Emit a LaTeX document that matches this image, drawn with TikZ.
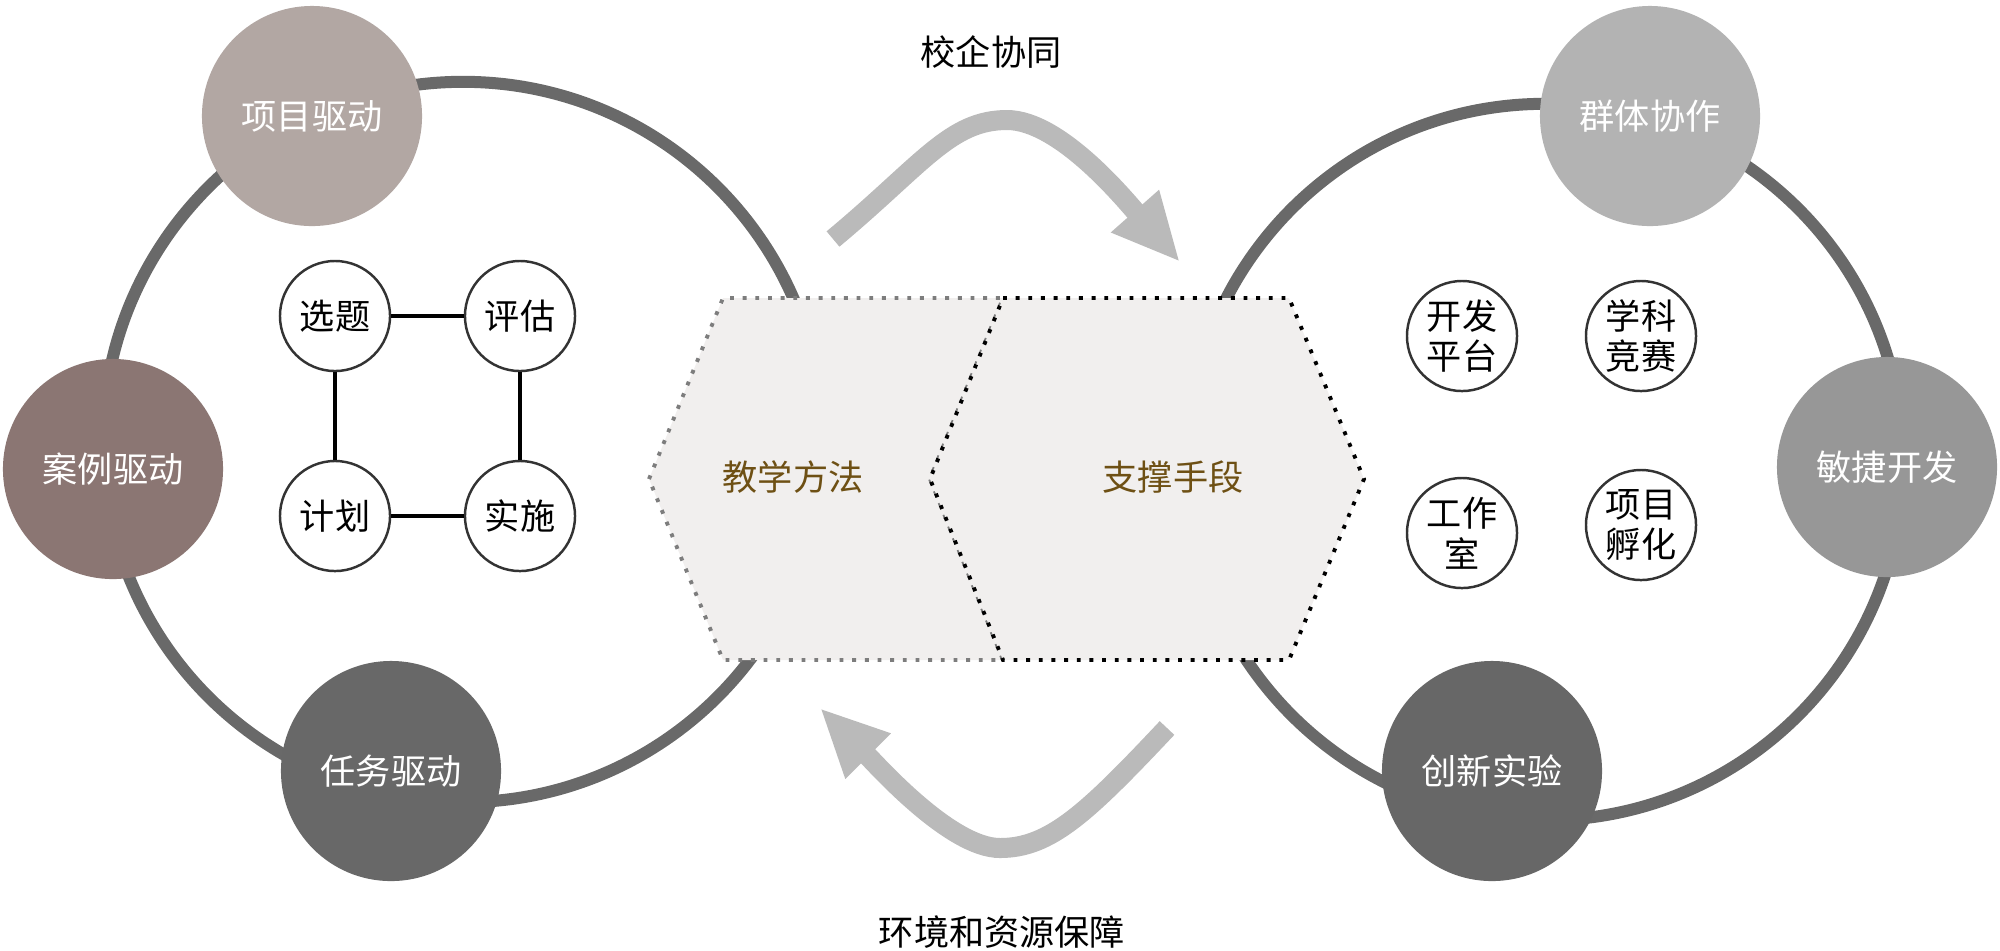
\documentclass[tikz,border=0pt]{standalone}
\usepackage{fontspec}
\usepackage{tikz}
\usetikzlibrary{arrows.meta}
\newfontfamily\cjk{Noto Sans CJK SC}
\definecolor{ringgray}{RGB}{105,105,105}
\definecolor{flowgray}{RGB}{186,186,186}
\definecolor{hexfill}{RGB}{241,239,238}
\definecolor{hexdot}{RGB}{125,125,125}
\definecolor{txtbrown}{RGB}{110,80,20}
\definecolor{projcol}{RGB}{178,167,163}
\definecolor{casecol}{RGB}{139,118,115}
\definecolor{taskcol}{RGB}{104,104,104}
\definecolor{teamcol}{RGB}{179,179,179}
\definecolor{agilecol}{RGB}{151,151,151}
\definecolor{innovcol}{RGB}{103,103,103}

\begin{document}
\begin{tikzpicture}[x=0.01cm,y=-0.01cm]
\tikzstyle{every node}=[font=\cjk\fontsize{10pt}{11.5pt}\selectfont]
\tikzstyle{hub}=[circle,minimum size=2.2cm,inner sep=0pt,text=white]
\tikzstyle{item}=[circle,draw=black!80,line width=0.7pt,fill=white,minimum size=1.1cm,inner sep=0pt,align=center]
\tikzstyle{ring}=[draw=ringgray,line width=0.12cm]
\tikzstyle{flow}=[draw=flowgray,line width=0.2cm,-{Triangle[length=6.8mm,width=5.9mm]}]
\tikzstyle{hexa}=[fill=hexfill,line width=1.1pt,dash pattern=on 1.1pt off 2.5pt]
\useasboundingbox (0,0) rectangle (2000,950);
\draw[ring] (463,442) circle (3.6cm);
\draw[ring] (1545,462) circle (3.58cm);
\coordinate (topstart) at (833,239);
\coordinate (toppeak) at (1007,120);
\coordinate (topend) at (1180,262);
\coordinate (botstart) at (1167,728);
\coordinate (botlow) at (1000,848);
\coordinate (botend) at (820,708);
\draw[flow] (topstart) .. controls (923,164) and (950,120) .. (toppeak)
  .. controls (1060,120) and (1126,201) .. (topend);
\draw[flow] (botstart) .. controls (1087,813) and (1050,848) .. (botlow)
  .. controls (950,848) and (875,763) .. (botend);
\draw[hexa,draw=hexdot] (649,479) -- (723,298) -- (1003,298) -- (930,479) -- (1003,660) -- (723,660) -- cycle;
\draw[hexa,draw=black] (1003,298) -- (1289,298) -- (1364,479) -- (1289,660) -- (1003,660) -- (930,479) -- cycle;
\node[text=txtbrown] (method) at (793,477) {教学方法};
\node[text=txtbrown] (support) at (1173,477) {支撑手段};
\node (coop) at (991,52) {校企协同};
\node (env) at (1002,932) {环境和资源保障};
\node[hub,fill=projcol] (proj) at (312,116) {项目驱动};
\node[hub,fill=casecol] (case) at (113,469) {案例驱动};
\node[hub,fill=taskcol] (task) at (391,771) {任务驱动};
\node[hub,fill=teamcol] (team) at (1650,116) {群体协作};
\node[hub,fill=agilecol] (agile) at (1887,467) {敏捷开发};
\node[hub,fill=innovcol] (innov) at (1492,771) {创新实验};
\node[item] (sel) at (335,316) {选题};
\node[item] (eval) at (520,316) {评估};
\node[item] (plan) at (335,516) {计划};
\node[item] (impl) at (520,516) {实施};
\draw[line width=0.9pt] (sel) -- (eval);
\draw[line width=0.9pt] (sel) -- (plan);
\draw[line width=0.9pt] (eval) -- (impl);
\draw[line width=0.9pt] (plan) -- (impl);
\node[item] (dev) at (1462,336) {开发\\平台};
\node[item] (contest) at (1641,336) {学科\\竞赛};
\node[item] (studio) at (1462,533) {工作\\室};
\node[item] (incub) at (1641,525) {项目\\孵化};
\end{tikzpicture}
\end{document}
